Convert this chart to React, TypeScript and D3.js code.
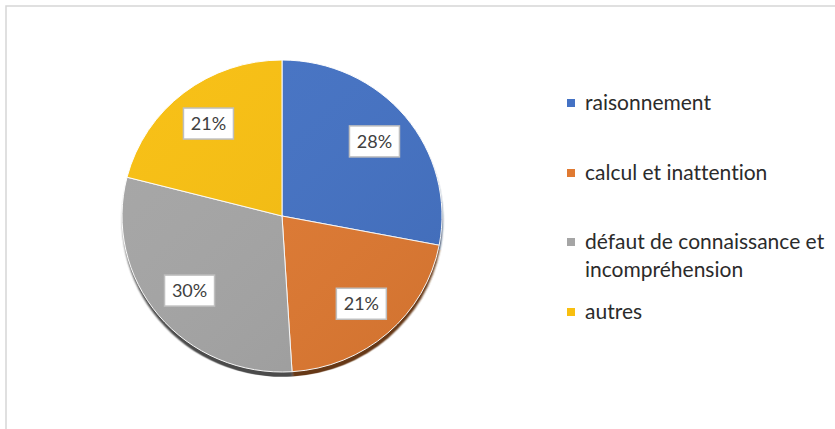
import React, { useRef, useEffect } from 'react';
import * as d3 from 'd3';

const categories = ['raisonnement', 'calcul et inattention', 'défaut de connaissance et incompréhension', 'autres'];
const legendLines = [['raisonnement'], ['calcul et inattention'], ['défaut de connaissance et', 'incompréhension'], ['autres']];
const values = [28, 21, 30, 21];
const colors = ['#4472C4', '#E07A32', '#A5A5A5', '#F8BF10'];
const legendRowY = [103, 173, 242, 312];

const App = () => {
    const ref = useRef<HTMLDivElement>(null);

    useEffect(() => {
        const width = 835;
        const height = 429;
        const cx = 282;
        const cy = 216;
        const radius = 160;
        const squash = 0.975;
        const font = 'Lato, "Open Sans", sans-serif';

        const svg = d3.create('svg')
            .attr('width', width)
            .attr('height', height)
            .attr('viewBox', [0, 0, width, height])
            .style('position', 'absolute')
            .style('left', '0px')
            .style('top', '0px')
            .style('font-family', font)
            .style('font-variant-ligatures', 'none')
            .style('font-feature-settings', '"liga" 0, "clig" 0');

        svg.append('rect')
            .attr('width', width)
            .attr('height', height)
            .attr('fill', '#fff');

        svg.append('rect')
            .attr('x', 6)
            .attr('y', 6)
            .attr('width', width + 10)
            .attr('height', height + 10)
            .attr('fill', 'none')
            .attr('stroke', '#D6D6D6')
            .attr('stroke-width', 1.5);

        const defs = svg.append('defs');
        defs.append('filter')
            .attr('id', 'soft')
            .append('feGaussianBlur')
            .attr('stdDeviation', 0.8);

        const shade = defs.append('linearGradient')
            .attr('id', 'shade')
            .attr('gradientUnits', 'userSpaceOnUse')
            .attr('x1', -radius).attr('y1', -radius)
            .attr('x2', radius).attr('y2', radius);
        shade.append('stop').attr('offset', 0).attr('stop-color', '#fff').attr('stop-opacity', 0.03);
        shade.append('stop').attr('offset', 1).attr('stop-color', '#000').attr('stop-opacity', 0.07);

        const pie = d3.pie<number>().sort(null).value(d => d);
        const arcs = pie(values);
        const arc = d3.arc<d3.PieArcDatum<number>>().innerRadius(0).outerRadius(radius);
        const labelArc = d3.arc<d3.PieArcDatum<number>>().innerRadius(radius * 0.75).outerRadius(radius * 0.75);

        const g = svg.append('g')
            .attr('transform', `translate(${cx},${cy}) scale(1,${squash})`);

        // darker copy underneath gives the thin 3D rim at the bottom
        g.append('g')
            .attr('transform', 'translate(0.5,5)')
            .attr('filter', 'url(#soft)')
            .selectAll('path')
            .data(arcs)
            .join('path')
            .attr('d', arc)
            .attr('fill', (_, i) => d3.color(colors[i])!.darker(2.2).formatHex());

        g.append('g').selectAll('path')
            .data(arcs)
            .join('path')
            .attr('d', arc)
            .attr('fill', (_, i) => colors[i])
            .attr('stroke', '#fff')
            .attr('stroke-width', 1);

        g.append('g').selectAll('path')
            .data(arcs)
            .join('path')
            .attr('d', arc)
            .attr('fill', 'url(#shade)');

        const total = d3.sum(values);
        const fmt = d3.format('.0%');

        const labels = svg.append('g')
            .attr('transform', `translate(${cx},${cy})`)
            .selectAll('g')
            .data(arcs)
            .join('g')
            .attr('transform', d => {
                const [x, y] = labelArc.centroid(d);
                return `translate(${x},${y * squash})`;
            });

        labels.append('rect')
            .attr('x', -25)
            .attr('y', -15.5)
            .attr('width', 50)
            .attr('height', 31)
            .attr('fill', '#fff')
            .attr('stroke', '#BFBFBF')
            .attr('stroke-width', 1.5);

        labels.append('text')
            .attr('text-anchor', 'middle')
            .attr('dy', '0.37em')
            .attr('font-size', 18)
            .attr('fill', '#404040')
            .text(d => fmt(d.data / total));

        const legend = svg.append('g')
            .selectAll('g')
            .data(categories)
            .join('g')
            .attr('transform', (_, i) => `translate(567,${legendRowY[i]})`);

        legend.append('rect')
            .attr('x', 0)
            .attr('y', -4)
            .attr('width', 8)
            .attr('height', 8)
            .attr('fill', (_, i) => colors[i]);

        legend.append('text')
            .attr('font-size', 21)
            .attr('fill', '#2B2B2B')
            .selectAll('tspan')
            .data((_, i) => legendLines[i])
            .join('tspan')
            .attr('x', 18)
            .attr('y', (_, j) => j * 28)
            .attr('dy', '0.35em')
            .text(d => d);

        ref.current?.appendChild(svg.node()!);
        return () => {
            if (ref.current) ref.current.innerHTML = '';
        };
    }, []);

    return <div ref={ref}></div>;
};

export default App;
